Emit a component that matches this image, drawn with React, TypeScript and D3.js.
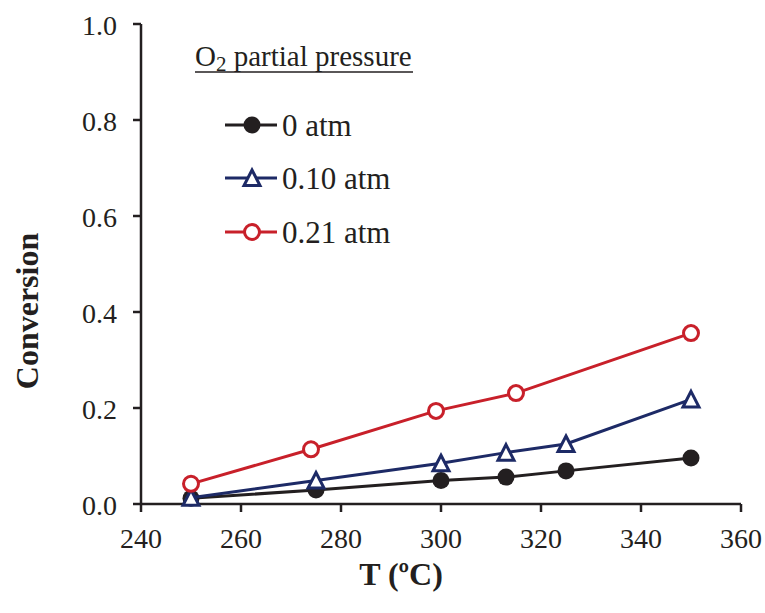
import React from "react";
import * as d3 from "d3";

// Conversion vs. temperature at three O2 partial pressures
const tempsNoO2 = [250, 275, 300, 313, 325, 350];
const convNoO2 = [0.012, 0.029, 0.049, 0.056, 0.069, 0.096];

const temps010 = [250, 275, 300, 313, 325, 350];
const conv010 = [0.013, 0.049, 0.085, 0.107, 0.125, 0.218];

const temps021 = [250, 274, 299, 315, 350];
const conv021 = [0.042, 0.114, 0.194, 0.231, 0.356];

const xTicks = [240, 260, 280, 300, 320, 340, 360];
const yTicks = [0, 0.2, 0.4, 0.6, 0.8, 1.0];

const seriesLabels = ["0 atm", "0.10 atm", "0.21 atm"];
const seriesColors = ["#231f20", "#1d2a66", "#c8202a"];

const W = 765;
const H = 613;
const FONT = "Liberation Serif";

const x = d3.scaleLinear().domain([240, 360]).range([141, 741]);
const y = d3.scaleLinear().domain([0, 1]).range([504, 24]);

type Pt = [number, number];
const zip = (xs: number[], ys: number[]): Pt[] => xs.map((v, i) => [v, ys[i]]);

const series = [
  { pts: zip(tempsNoO2, convNoO2), marker: "dot" },
  { pts: zip(temps010, conv010), marker: "tri" },
  { pts: zip(temps021, conv021), marker: "ring" },
];

const line = d3
  .line<Pt>()
  .x((d) => x(d[0]))
  .y((d) => y(d[1]));

function Marker({ kind, cx, cy, color }: { kind: string; cx: number; cy: number; color: string }) {
  if (kind === "dot") return <circle cx={cx} cy={cy} r={8.5} fill={color} />;
  if (kind === "ring")
    return <circle cx={cx} cy={cy} r={7.5} fill="#fff" stroke={color} strokeWidth={3} />;
  const s = 8;
  const pts = `${cx},${cy - s} ${cx + s},${cy + s * 0.95} ${cx - s},${cy + s * 0.95}`;
  return <polygon points={pts} fill="#fff" stroke={color} strokeWidth={3} strokeLinejoin="miter" />;
}

export default function App() {
  const legendRows = [125, 178, 232];
  return (
    <svg
      width={W}
      height={H}
      style={{ position: "absolute", left: 0, top: 0, background: "#fff", fontFamily: FONT }}
    >
      <rect width={W} height={H} fill="#fff" />

      {/* axes */}
      <g stroke="#231f20" strokeWidth={2.5} fill="none">
        <line x1={x(240)} x2={x(240)} y1={y(1)} y2={y(0)} />
        <line x1={x(240)} x2={x(360)} y1={y(0)} y2={y(0)} />
        {yTicks.map((t) => (
          <line key={"yt" + t} x1={x(240) - 8} x2={x(240)} y1={y(t)} y2={y(t)} />
        ))}
        {xTicks.map((t) => (
          <line key={"xt" + t} x1={x(t)} x2={x(t)} y1={y(0)} y2={y(0) + 8} />
        ))}
      </g>

      <g fontSize={28} fill="#231f20" fontFamily={FONT}>
        {yTicks.map((t) => (
          <text key={"yl" + t} x={x(240) - 24} y={y(t) + 10.5} textAnchor="end">
            {t.toFixed(1)}
          </text>
        ))}
        {xTicks.map((t) => (
          <text key={"xl" + t} x={x(t)} y={y(0) + 44} textAnchor="middle">
            {t}
          </text>
        ))}
      </g>

      <text
        transform="translate(38, 311) rotate(-90)"
        textAnchor="middle"
        fontSize={32}
        fontWeight="bold"
        fill="#231f20"
        fontFamily={FONT}
      >
        Conversion
      </text>
      <text
        x={401}
        y={585}
        textAnchor="middle"
        fontSize={32}
        fontWeight="bold"
        fill="#231f20"
        fontFamily={FONT}
      >
        T (ºC)
      </text>

      {/* series: black first, red on top */}
      {series.map((s, i) => (
        <g key={"s" + i}>
          <path d={line(s.pts) || ""} fill="none" stroke={seriesColors[i]} strokeWidth={3} />
          {s.pts.map((p, j) => (
            <Marker key={j} kind={s.marker} cx={x(p[0])} cy={y(p[1])} color={seriesColors[i]} />
          ))}
        </g>
      ))}

      {/* legend */}
      <g fill="#231f20" fontSize={31} fontFamily={FONT}>
        <text x={195} y={66} fontSize={29}>
          O<tspan fontSize={21} dy={5}>2</tspan>
          <tspan dy={-5}> partial pressure</tspan>
        </text>
        <line x1={195} x2={413} y1={72} y2={72} stroke="#231f20" strokeWidth={1.5} />
        {seriesLabels.map((lab, i) => (
          <g key={"lg" + i}>
            <line
              x1={225}
              x2={277}
              y1={legendRows[i]}
              y2={legendRows[i]}
              stroke={seriesColors[i]}
              strokeWidth={3}
            />
            <Marker kind={series[i].marker} cx={252} cy={legendRows[i]} color={seriesColors[i]} />
            <text x={282} y={legendRows[i]} dy="0.35em">
              {lab}
            </text>
          </g>
        ))}
      </g>
    </svg>
  );
}
